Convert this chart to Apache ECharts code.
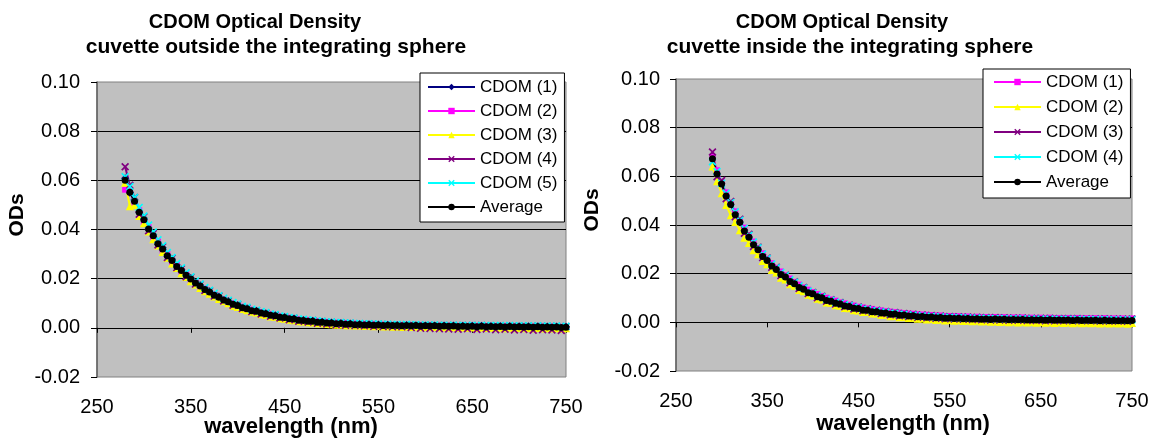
<!DOCTYPE html>
<html><head><meta charset="utf-8">
<script src="https://cdn.jsdelivr.net/npm/echarts@6/dist/echarts.min.js"></script>
<style>html,body{margin:0;padding:0;background:#fff}#c{width:1159px;height:439px}</style>
</head><body><div id="c"></div>
<script>
// ---------- data ----------
const wlL = [280,285,290,295,300,305,310,315,320,325,330,335,340,345,350,355,360,365,370,375,
380,385,390,395,400,405,410,415,420,425,430,435,440,445,450,455,460,465,470,475,
480,485,490,495,500,505,510,515,520,525,530,535,540,545,550,555,560,565,570,575,
580,585,590,595,600,605,610,615,620,625,630,635,640,645,650,655,660,665,670,675,
680,685,690,695,700,705,710,715,720,725,730,735,740,745,750];
const wlR = [290,295,300,305,310,315,320,325,330,335,340,345,350,355,360,365,370,375,380,385,
390,395,400,405,410,415,420,425,430,435,440,445,450,455,460,465,470,475,480,485,
490,495,500,505,510,515,520,525,530,535,540,545,550,555,560,565,570,575,580,585,
590,595,600,605,610,615,620,625,630,635,640,645,650,655,660,665,670,675,680,685,
690,695,700,705,710,715,720,725,730,735,740,745,750];
const xTicks = [250,350,450,550,650,750];
const yTicks = [-0.02,0.00,0.02,0.04,0.06,0.08,0.10];

const namesL = ['CDOM (1)','CDOM (2)','CDOM (3)','CDOM (4)','CDOM (5)','Average'];
const namesR = ['CDOM (1)','CDOM (2)','CDOM (3)','CDOM (4)','Average'];

// left chart: cuvette outside the integrating sphere
const c1L = [0.0608,0.0549,0.0521,0.0468,0.0446,0.0399,0.0379,0.0340,0.0326,0.0290,
0.0279,0.0248,0.0237,0.0211,0.0203,0.0180,0.0173,0.0154,0.0149,0.0131,
0.0127,0.0111,0.0109,0.0094,0.0093,0.0080,0.0080,0.0069,0.0069,0.0058,
0.0059,0.0050,0.0051,0.0041,0.0044,0.0035,0.0038,0.0029,0.0032,0.0025,
0.0029,0.0021,0.0025,0.0018,0.0022,0.0015,0.0020,0.0013,0.0018,0.0011,
0.0016,0.0010,0.0015,0.0009,0.0014,0.0008,0.0013,0.0007,0.0012,0.0006,
0.0012,0.0006,0.0011,0.0005,0.0010,0.0005,0.0010,0.0004,0.0009,0.0004,
0.0009,0.0003,0.0008,0.0003,0.0008,0.0002,0.0008,0.0002,0.0007,0.0002,
0.0007,0.0001,0.0007,0.0001,0.0006,0.0001,0.0006,0.0000,0.0006,0.0000,
0.0005,0.0000,0.0005,-0.0001,0.0004];
const c2L = [0.0562,0.0560,0.0508,0.0478,0.0431,0.0409,0.0369,0.0351,0.0315,0.0300,
0.0268,0.0256,0.0229,0.0218,0.0195,0.0186,0.0166,0.0160,0.0142,0.0137,
0.0120,0.0117,0.0102,0.0100,0.0088,0.0086,0.0075,0.0074,0.0064,0.0064,
0.0054,0.0055,0.0046,0.0047,0.0039,0.0041,0.0033,0.0035,0.0028,0.0031,
0.0024,0.0027,0.0021,0.0024,0.0017,0.0021,0.0015,0.0019,0.0013,0.0017,
0.0012,0.0015,0.0011,0.0014,0.0009,0.0013,0.0009,0.0012,0.0008,0.0011,
0.0007,0.0011,0.0007,0.0010,0.0006,0.0010,0.0006,0.0009,0.0005,0.0009,
0.0005,0.0008,0.0004,0.0008,0.0004,0.0007,0.0004,0.0007,0.0003,0.0007,
0.0003,0.0006,0.0003,0.0006,0.0002,0.0006,0.0002,0.0005,0.0002,0.0005,
0.0001,0.0005,0.0001,0.0004,0.0001];
const c3L = [0.0590,0.0495,0.0500,0.0455,0.0425,0.0392,0.0360,0.0335,0.0308,0.0285,
0.0262,0.0243,0.0222,0.0207,0.0189,0.0176,0.0162,0.0149,0.0139,0.0127,
0.0117,0.0108,0.0100,0.0090,0.0085,0.0077,0.0072,0.0065,0.0062,0.0055,
0.0052,0.0046,0.0045,0.0039,0.0037,0.0033,0.0031,0.0027,0.0026,0.0023,
0.0022,0.0019,0.0019,0.0016,0.0015,0.0013,0.0013,0.0011,0.0011,0.0009,
0.0009,0.0007,0.0008,0.0006,0.0007,0.0005,0.0006,0.0004,0.0005,0.0003,
0.0005,0.0003,0.0004,0.0002,0.0003,0.0002,0.0003,0.0001,0.0002,0.0001,
0.0002,0.0000,0.0001,0.0000,0.0001,-0.0001,0.0001,-0.0001,0.0000,-0.0001,
0.0000,-0.0002,0.0000,-0.0002,-0.0001,-0.0002,-0.0001,-0.0003,-0.0001,-0.0003,
-0.0002,-0.0003,-0.0002,-0.0004,-0.0002];
const c4L = [0.0655,0.0580,0.0530,0.0462,0.0452,0.0395,0.0384,0.0337,0.0330,0.0286,
0.0283,0.0245,0.0240,0.0208,0.0206,0.0178,0.0176,0.0152,0.0151,0.0129,
0.0129,0.0109,0.0110,0.0092,0.0095,0.0079,0.0081,0.0066,0.0070,0.0056,
0.0060,0.0047,0.0052,0.0040,0.0045,0.0033,0.0039,0.0027,0.0033,0.0024,
0.0030,0.0019,0.0026,0.0016,0.0023,0.0013,0.0021,0.0011,0.0019,0.0009,
0.0017,0.0008,0.0016,0.0006,0.0015,0.0005,0.0014,0.0004,0.0013,0.0004,
0.0013,0.0001,0.0012,-0.0002,0.0011,-0.0003,0.0011,-0.0004,0.0010,-0.0005,
0.0010,-0.0006,0.0009,-0.0004,0.0009,-0.0007,0.0009,-0.0005,0.0008,-0.0008,
0.0008,-0.0006,0.0008,-0.0009,0.0007,-0.0007,0.0007,-0.0010,0.0007,-0.0008,
0.0006,-0.0009,0.0006,-0.0011,0.0005];
const c5L = [0.0615,0.0575,0.0530,0.0490,0.0455,0.0418,0.0390,0.0358,0.0334,0.0306,
0.0286,0.0262,0.0244,0.0224,0.0208,0.0191,0.0178,0.0164,0.0153,0.0141,
0.0131,0.0120,0.0112,0.0103,0.0097,0.0088,0.0084,0.0076,0.0072,0.0066,
0.0062,0.0056,0.0054,0.0048,0.0046,0.0042,0.0040,0.0036,0.0035,0.0032,
0.0031,0.0028,0.0027,0.0024,0.0024,0.0021,0.0022,0.0019,0.0020,0.0017,
0.0018,0.0016,0.0017,0.0015,0.0016,0.0014,0.0015,0.0013,0.0014,0.0012,
0.0014,0.0012,0.0013,0.0011,0.0012,0.0011,0.0012,0.0010,0.0011,0.0010,
0.0011,0.0009,0.0010,0.0009,0.0010,0.0008,0.0010,0.0008,0.0009,0.0008,
0.0009,0.0007,0.0009,0.0007,0.0008,0.0007,0.0008,0.0006,0.0008,0.0006,
0.0007,0.0006,0.0007,0.0005,0.0006];
const avgL = [0.0600,0.0552,0.0515,0.0470,0.0440,0.0402,0.0375,0.0342,0.0321,0.0293,
0.0274,0.0250,0.0233,0.0214,0.0199,0.0182,0.0170,0.0156,0.0146,0.0133,
0.0124,0.0113,0.0106,0.0096,0.0091,0.0082,0.0078,0.0070,0.0067,0.0060,
0.0057,0.0051,0.0049,0.0043,0.0042,0.0037,0.0036,0.0031,0.0030,0.0027,
0.0027,0.0023,0.0023,0.0020,0.0020,0.0017,0.0018,0.0015,0.0016,0.0013,
0.0014,0.0012,0.0013,0.0011,0.0012,0.0010,0.0011,0.0009,0.0010,0.0008,
0.0010,0.0008,0.0009,0.0007,0.0008,0.0007,0.0008,0.0006,0.0007,0.0006,
0.0007,0.0005,0.0006,0.0005,0.0006,0.0004,0.0006,0.0004,0.0005,0.0004,
0.0005,0.0003,0.0005,0.0003,0.0004,0.0003,0.0004,0.0002,0.0004,0.0002,
0.0003,0.0002,0.0003,0.0001,0.0002];

// right chart: cuvette inside the integrating sphere
const c1R = [0.0680,0.0625,0.0575,0.0534,0.0490,0.0456,0.0418,0.0389,0.0357,0.0332,
0.0305,0.0284,0.0261,0.0243,0.0224,0.0209,0.0193,0.0180,0.0166,0.0155,
0.0143,0.0134,0.0124,0.0116,0.0108,0.0101,0.0094,0.0089,0.0082,0.0078,
0.0072,0.0069,0.0064,0.0061,0.0057,0.0055,0.0051,0.0049,0.0046,0.0044,
0.0042,0.0040,0.0038,0.0036,0.0035,0.0033,0.0032,0.0031,0.0030,0.0028,
0.0028,0.0026,0.0026,0.0025,0.0025,0.0023,0.0024,0.0022,0.0023,0.0021,
0.0022,0.0020,0.0022,0.0020,0.0021,0.0019,0.0020,0.0019,0.0020,0.0018,
0.0019,0.0018,0.0019,0.0017,0.0019,0.0017,0.0018,0.0017,0.0018,0.0016,
0.0018,0.0016,0.0017,0.0016,0.0017,0.0015,0.0017,0.0015,0.0016,0.0015,
0.0016,0.0014,0.0016];
const c2R = [0.0640,0.0580,0.0530,0.0482,0.0440,0.0412,0.0378,0.0348,0.0326,0.0296,
0.0280,0.0252,0.0239,0.0215,0.0205,0.0183,0.0176,0.0156,0.0150,0.0133,
0.0128,0.0113,0.0110,0.0097,0.0094,0.0082,0.0080,0.0070,0.0068,0.0059,
0.0058,0.0050,0.0049,0.0042,0.0042,0.0036,0.0036,0.0030,0.0031,0.0025,
0.0026,0.0021,0.0022,0.0018,0.0019,0.0015,0.0016,0.0012,0.0014,0.0010,
0.0012,0.0008,0.0010,0.0007,0.0009,0.0005,0.0007,0.0004,0.0006,0.0003,
0.0005,0.0002,0.0004,0.0001,0.0003,0.0000,0.0003,-0.0001,0.0002,-0.0001,
0.0001,-0.0002,0.0001,-0.0002,0.0000,-0.0003,0.0000,-0.0003,-0.0001,-0.0004,
-0.0001,-0.0004,-0.0002,-0.0004,-0.0002,-0.0005,-0.0002,-0.0005,-0.0003,-0.0005,
-0.0003,-0.0006,-0.0003];
const c3R = [0.0700,0.0598,0.0583,0.0508,0.0497,0.0434,0.0424,0.0366,0.0362,0.0312,
0.0309,0.0266,0.0264,0.0226,0.0226,0.0192,0.0194,0.0163,0.0167,0.0139,
0.0143,0.0118,0.0123,0.0101,0.0107,0.0087,0.0093,0.0075,0.0081,0.0064,
0.0071,0.0055,0.0063,0.0048,0.0056,0.0042,0.0050,0.0036,0.0045,0.0031,
0.0040,0.0027,0.0036,0.0024,0.0033,0.0021,0.0030,0.0019,0.0028,0.0017,
0.0026,0.0015,0.0024,0.0014,0.0023,0.0013,0.0022,0.0012,0.0021,0.0011,
0.0020,0.0010,0.0020,0.0010,0.0019,0.0009,0.0018,0.0009,0.0018,0.0008,
0.0017,0.0008,0.0017,0.0007,0.0017,0.0007,0.0016,0.0007,0.0016,0.0006,
0.0016,0.0006,0.0015,0.0006,0.0015,0.0005,0.0015,0.0005,0.0014,0.0005,
0.0014,0.0004,0.0014];
const c4R = [0.0660,0.0620,0.0572,0.0530,0.0492,0.0454,0.0420,0.0386,0.0358,0.0330,
0.0306,0.0281,0.0262,0.0240,0.0224,0.0205,0.0192,0.0175,0.0165,0.0150,
0.0141,0.0129,0.0121,0.0111,0.0105,0.0095,0.0091,0.0083,0.0079,0.0072,
0.0069,0.0062,0.0061,0.0054,0.0053,0.0048,0.0047,0.0042,0.0042,0.0037,
0.0037,0.0033,0.0033,0.0029,0.0030,0.0026,0.0027,0.0024,0.0025,0.0022,
0.0023,0.0020,0.0021,0.0019,0.0020,0.0018,0.0019,0.0017,0.0018,0.0016,
0.0017,0.0015,0.0016,0.0015,0.0016,0.0014,0.0015,0.0014,0.0015,0.0013,
0.0014,0.0013,0.0014,0.0012,0.0014,0.0012,0.0013,0.0012,0.0013,0.0011,
0.0013,0.0011,0.0012,0.0011,0.0012,0.0010,0.0012,0.0010,0.0011,0.0010,
0.0011,0.0009,0.0011];
const avgR = [0.0672,0.0610,0.0569,0.0519,0.0484,0.0442,0.0411,0.0375,0.0350,0.0319,
0.0298,0.0271,0.0254,0.0231,0.0217,0.0197,0.0186,0.0168,0.0159,0.0143,
0.0136,0.0122,0.0117,0.0105,0.0101,0.0090,0.0087,0.0078,0.0075,0.0067,
0.0065,0.0058,0.0057,0.0050,0.0050,0.0044,0.0044,0.0038,0.0038,0.0033,
0.0034,0.0029,0.0030,0.0026,0.0027,0.0023,0.0024,0.0021,0.0022,0.0019,
0.0020,0.0017,0.0018,0.0016,0.0017,0.0015,0.0016,0.0014,0.0015,0.0013,
0.0014,0.0012,0.0014,0.0012,0.0013,0.0011,0.0012,0.0011,0.0012,0.0010,
0.0011,0.0010,0.0011,0.0009,0.0011,0.0009,0.0010,0.0009,0.0010,0.0008,
0.0010,0.0008,0.0009,0.0008,0.0009,0.0007,0.0009,0.0007,0.0008,0.0007,
0.0008,0.0006,0.0008];

// ---------- chart ----------
const FONT = '"Liberation Sans", Arial, sans-serif';
const XSYM = 'path://M0,1.5L1.5,0L5,3.5L8.5,0L10,1.5L6.5,5L10,8.5L8.5,10L5,6.5L1.5,10L0,8.5L3.5,5Z';

function mk(name, wl, vals, color, symbol, size, gi) {
  return {
    type: 'line', name: name, xAxisIndex: gi * 2, yAxisIndex: gi,
    data: wl.map((w, i) => [w, vals[i]]),
    symbol: symbol, symbolSize: size, showSymbol: true, showAllSymbol: true,
    lineStyle: { color: color, width: 2 },
    itemStyle: { color: color, borderWidth: 0 },
    emphasis: { disabled: true }, silent: true, animation: false
  };
}

function xAxes(gi) {
  return [
    { gridIndex: gi, type: 'value', min: xTicks[0], max: xTicks[xTicks.length - 1], interval: 100,
      position: 'bottom',
      axisLine: { show: true, onZero: true, lineStyle: { color: '#000', width: 1 } },
      axisTick: { show: true, inside: false, length: 5, lineStyle: { color: '#000' } },
      axisLabel: { show: false }, splitLine: { show: false } },
    { gridIndex: gi, type: 'value', min: xTicks[0], max: xTicks[xTicks.length - 1], interval: 100,
      position: 'bottom',
      axisLine: { show: false, onZero: false }, axisTick: { show: false },
      axisLabel: { show: true, margin: 20, fontSize: 20, color: '#000', fontFamily: FONT },
      splitLine: { show: false } }
  ];
}
function yAxis(gi, margin) {
  return { gridIndex: gi, type: 'value', min: yTicks[0], max: yTicks[yTicks.length - 1], interval: 0.02,
    axisLine: { show: true, onZero: false, lineStyle: { color: '#606060', width: 1.5 } },
    axisTick: { show: true, inside: false, length: 6, lineStyle: { color: '#000' } },
    axisLabel: { margin: margin, fontSize: 20, color: '#000', fontFamily: FONT,
      formatter: v => v.toFixed(2) },
    splitLine: { show: true, showMinLine: false, showMaxLine: false, lineStyle: { color: '#000', width: 1 } } };
}
function legend(left, top, names, pad, gap) {
  return { orient: 'vertical', left: left, top: top, data: names,
    itemWidth: 47, itemHeight: 8, itemGap: gap, padding: pad,
    backgroundColor: '#fff', borderColor: '#000', borderWidth: 1, borderRadius: 0,
    selectedMode: false,
    formatter: n => n.replace(/^R:/, ''),
    textStyle: { fontSize: 17, lineHeight: 18, color: '#000', fontFamily: FONT } };
}
function txt(x, y, s, size, rot) {
  return { type: 'text', x: x, y: y, rotation: rot || 0, silent: true,
    style: { text: s, align: 'center', verticalAlign: 'middle', fontSize: size,
      fontWeight: 'bold', fontFamily: FONT, fill: '#000' } };
}

const colsL = ['#000080', '#FF00FF', '#FFFF00', '#800080', '#00FFFF', '#000000'];
const symsL = ['diamond', 'rect', 'triangle', XSYM, XSYM, 'circle'];
const sizesL = [8, 6, 8, 8, 8, 7];
const dataL = [c1L, c2L, c3L, c4L, c5L, avgL];
const colsR = ['#FF00FF', '#FFFF00', '#800080', '#00FFFF', '#000000'];
const symsR = ['rect', 'triangle', XSYM, XSYM, 'circle'];
const sizesR = [6, 8, 8, 8, 7];
const dataR = [c1R, c2R, c3R, c4R, avgR];

const series = [];
namesL.forEach((n, i) => series.push(mk(n, wlL, dataL[i], colsL[i], symsL[i], sizesL[i], 0)));
namesR.forEach((n, i) => series.push(mk('R:' + n, wlR, dataR[i], colsR[i], symsR[i], sizesR[i], 1)));

const chart = echarts.init(document.getElementById('c'), null, { renderer: 'canvas' });
chart.setOption({
  animation: false,
  backgroundColor: '#fff',
  grid: [
    { left: 97, right: 593, top: 82, bottom: 62, show: true, backgroundColor: '#C0C0C0', borderColor: '#808080', borderWidth: 1 },
    { left: 676, right: 27, top: 79, bottom: 68, show: true, backgroundColor: '#C0C0C0', borderColor: '#808080', borderWidth: 1 }
  ],
  xAxis: xAxes(0).concat(xAxes(1)),
  yAxis: [yAxis(0, 17), yAxis(1, 16)],
  legend: [
    legend(420, 73, namesL, [5, 7, 6, 7], 6),
    legend(983, 69, namesR.map(n => 'R:' + n), [4, 7, 7, 10], 7)
  ],
  graphic: [
    txt(255, 22, 'CDOM Optical Density', 20),
    txt(276, 47, 'cuvette outside the integrating sphere', 21),
    txt(842, 22, 'CDOM Optical Density', 20),
    txt(850, 47, 'cuvette inside the integrating sphere', 21),
    txt(17, 215, 'ODs', 21, Math.PI / 2),
    txt(592, 210, 'ODs', 21, Math.PI / 2),
    txt(291, 427, 'wavelength (nm)', 22),
    txt(903, 424, 'wavelength (nm)', 22)
  ],
  series: series
});
</script>
</body></html>
